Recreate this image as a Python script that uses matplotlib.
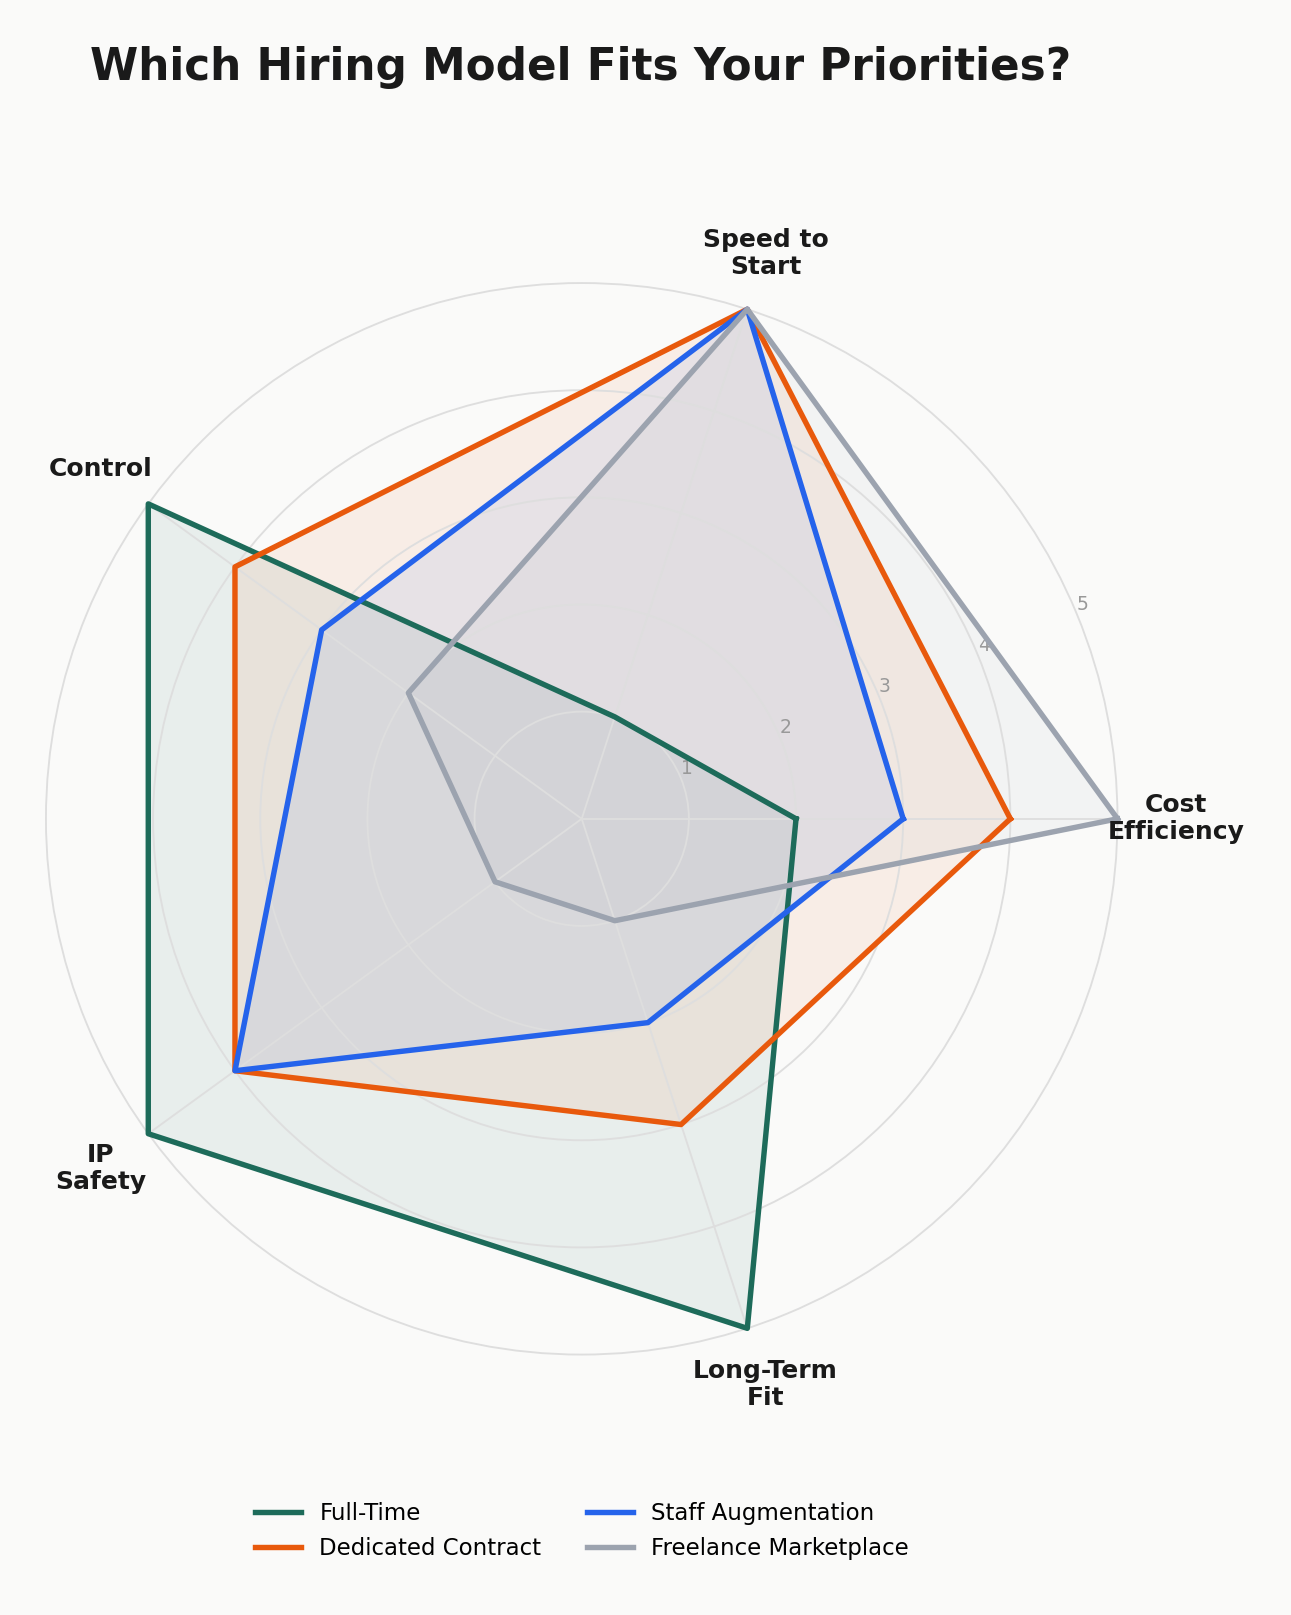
import numpy as np
import matplotlib
matplotlib.use("Agg")
import matplotlib.pyplot as plt

categories = ["Cost\nEfficiency", "Speed to\nStart", "Control", "IP\nSafety", "Long-Term\nFit"]
series_names = ["Full-Time", "Dedicated Contract", "Staff Augmentation", "Freelance Marketplace"]
full_time = [2, 1, 5, 5, 5]
dedicated = [4, 5, 4, 4, 3]
staff_aug = [3, 5, 3, 4, 2]
freelance = [5, 5, 2, 1, 1]
colors = ["#1d6b5a", "#e8590c", "#2563eb", "#9ca3af"]
bg = "#fafaf9"

fig = plt.figure(figsize=(1291 / 150, 1615 / 150), dpi=150, facecolor=bg)
ax = fig.add_axes([0.0356, 0.161, 0.830, 0.664], polar=True)
ax.set_facecolor(bg)

angles = np.linspace(0, 2 * np.pi, len(categories), endpoint=False)
closed = np.concatenate([angles, angles[:1]])

for name, vals, c in zip(series_names, [full_time, dedicated, staff_aug, freelance], colors):
    v = vals + vals[:1]
    ax.plot(closed, v, color=c, lw=2.6, label=name, clip_on=False, zorder=3)
    ax.fill(closed, v, color=c, alpha=0.08, zorder=1)

ax.set_ylim(0, 5)
ax.set_yticks([1, 2, 3, 4, 5])
ax.set_yticklabels(["1", "2", "3", "4", "5"], color="#999999", fontsize=9)
ax.set_rlabel_position(22.5)
ax.set_xticks(angles)
ax.set_xticklabels([])
ax.grid(color="#dedede", lw=0.9)
for gl in ax.get_xgridlines() + ax.get_ygridlines():
    gl.set_zorder(2)
    gl.set_clip_on(False)
ax.spines["polar"].set_visible(False)

for a, lab in zip(angles, categories):
    ax.text(a, 5.55, lab, ha="center", va="center", fontsize=12, fontweight="bold",
            color="#1a1a1a", linespacing=1.15)

fig.text(0.07, 0.9505, "Which Hiring Model Fits Your Priorities?", fontsize=21,
         fontweight="bold", color="#1a1a1a", va="baseline", ha="left")

fig.legend(loc="center", bbox_to_anchor=(0.451, 0.052), ncol=2, frameon=False, fontsize=11)

fig.savefig("out.png", dpi=150, facecolor=bg)
